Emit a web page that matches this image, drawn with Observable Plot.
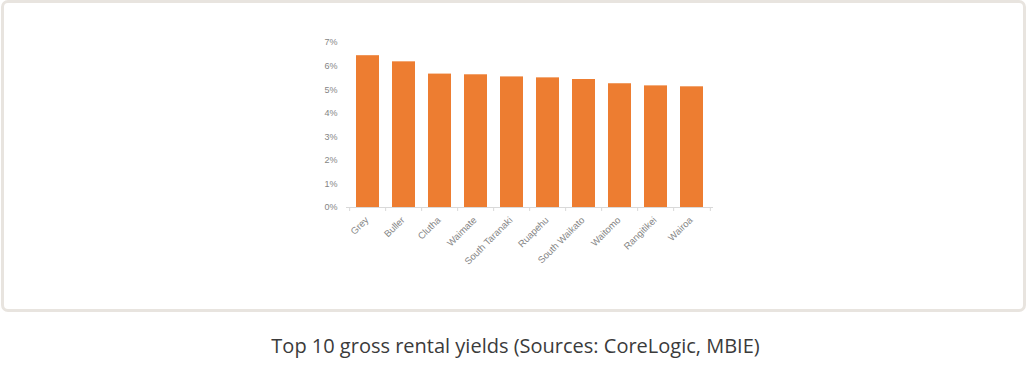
<!DOCTYPE html>
<html>
<head>
<meta charset="utf-8">
<script src="https://cdn.jsdelivr.net/npm/d3@7"></script>
<script src="https://cdn.jsdelivr.net/npm/@observablehq/plot@0.6"></script>
<style>
  html, body { margin: 0; padding: 0; background: #fff; }
  body { width: 1031px; height: 365px; position: relative; overflow: hidden; }
  #card { position: absolute; left: 1px; top: 0px; width: 1025px; height: 312px; box-sizing: border-box;
          border: 3px solid #e8e4df; border-radius: 7px; background: #fff; }
  #chart { position: absolute; left: 0; top: 0; }
  #caption { position: absolute; left: 0; width: 1031px; top: 333px; text-align: center;
             font-family: "Open Sans", sans-serif; font-size: 20px; line-height: 26px; color: #3b3b3b; }
</style>
</head>
<body>
<div id="card"></div>
<div id="chart"></div>
<div id="caption">Top 10 gross rental yields (Sources: CoreLogic, MBIE)</div>
<script>
const categories = ["Grey", "Buller", "Clutha", "Waimate", "South Taranaki", "Ruapehu", "South Waikato", "Waitomo", "Rangitikei", "Wairoa"];
const yields = [6.44, 6.18, 5.66, 5.63, 5.54, 5.50, 5.43, 5.25, 5.16, 5.12];
const yTicks = [0, 1, 2, 3, 4, 5, 6, 7];

const data = categories.map((c, i) => ({region: c, value: yields[i]}));

const W = 1031, H = 300, mL = 346, mR = 318, mT = 42, mB = 93;
const step = (W - mL - mR) / categories.length;
const font = "'Liberation Sans', sans-serif";
const grey = "#858585";

const plot = Plot.plot({
  width: W,
  height: H,
  marginLeft: mL,
  marginRight: mR,
  marginTop: mT,
  marginBottom: mB,
  style: {fontFamily: font, background: "transparent", overflow: "visible"},
  x: {domain: categories, paddingInner: 0.35, paddingOuter: 0.175, axis: null},
  y: {domain: [0, 7], axis: null},
  marks: [
    Plot.barY(data, {x: "region", y: "value", fill: "#ED7D31"}),
    Plot.ruleY([0], {stroke: "#d9d9d9", strokeWidth: 1}),
    Plot.ruleX(categories, {x: d => d, y1: 0, y2: 0, dx: -step / 2, insetBottom: -4, stroke: "#d9d9d9"}),
    Plot.ruleX(categories.slice(-1), {x: d => d, y1: 0, y2: 0, dx: step / 2, insetBottom: -4, stroke: "#d9d9d9"}),
    Plot.axisY(yTicks, {tickSize: 0, tickPadding: 9, tickFormat: d => d + "%", fontSize: 9, fill: grey, label: null}),
    Plot.text(data, {x: "region", y: 0, text: "region", rotate: -45, textAnchor: "end",
                     dx: -1, dy: 11, fontSize: 9.5, fill: grey})
  ]
});
document.getElementById("chart").appendChild(plot);
</script>
</body>
</html>
